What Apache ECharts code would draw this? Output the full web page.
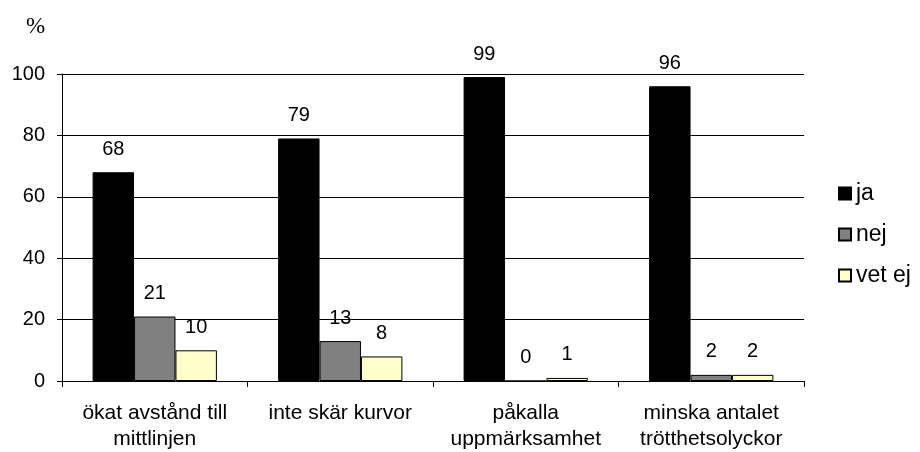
<!DOCTYPE html>
<html>
<head>
<meta charset="utf-8">
<script src="https://cdn.jsdelivr.net/npm/echarts@6/dist/echarts.min.js"></script>
<style>
  html, body { margin: 0; padding: 0; background: #fff; }
  #chart { width: 920px; height: 452px; }
</style>
</head>
<body>
<div id="chart"></div>
<script>
// Survey answers per proposed effect (percent)
const categories = [
  'ökat avstånd till\nmittlinjen',
  'inte skär kurvor',
  'påkalla\nuppmärksamhet',
  'minska antalet\ntrötthetsolyckor'
];
const seriesNames = ['ja', 'nej', 'vet ej'];
const jaValues = [68, 79, 99, 96];
const nejValues = [21, 13, 0, 2];
const vetEjValues = [10, 8, 1, 2];
const yTicks = [0, 20, 40, 60, 80, 100];

const FONT = "'Liberation Sans', Arial, sans-serif";
const colors = ['#000000', '#808080', '#FFFFCC'];
const values = [jaValues, nejValues, vetEjValues];

const chart = echarts.init(document.getElementById('chart'), null, { renderer: 'canvas' });

chart.setOption({
  animation: false,
  backgroundColor: '#ffffff',
  title: {
    text: '%',
    left: 21,
    top: 10,
    textStyle: { fontFamily: "'Liberation Serif', 'Times New Roman', serif", fontSize: 23, fontWeight: 'normal', color: '#000' }
  },
  grid: { left: 62, right: 116, top: 74, bottom: 70, containLabel: false },
  legend: {
    orient: 'vertical',
    left: 833,
    top: 177,
    itemWidth: 12,
    itemHeight: 12,
    itemGap: 18,
    itemTextGap: 9,
    icon: 'rect',
    data: seriesNames,
    textStyle: { fontFamily: FONT, fontSize: 23, color: '#000' }
  },
  xAxis: {
    type: 'category',
    data: categories,
    axisLine: { lineStyle: { color: '#000', width: 1 } },
    axisTick: { show: true, length: 6, alignWithLabel: false, lineStyle: { color: '#000' } },
    axisLabel: { fontFamily: FONT, fontSize: 21, color: '#000', margin: 19, lineHeight: 26, interval: 0 }
  },
  yAxis: {
    type: 'value',
    min: yTicks[0],
    max: yTicks[yTicks.length - 1],
    interval: yTicks[1] - yTicks[0],
    axisLine: { show: true, lineStyle: { color: '#000', width: 1 } },
    axisTick: { show: true, length: 5, lineStyle: { color: '#000' } },
    axisLabel: { fontFamily: FONT, fontSize: 20, color: '#000', margin: 17 },
    splitLine: { show: true, lineStyle: { color: '#000', width: 1 } }
  },
  series: seriesNames.map((name, i) => ({
    name: name,
    type: 'bar',
    data: values[i],
    barGap: '0%',
    barCategoryGap: '33%',
    itemStyle: { color: colors[i], borderColor: '#000', borderWidth: 1 },
    label: {
      show: true,
      position: 'top',
      distance: 13,
      fontFamily: FONT,
      fontSize: 20,
      color: '#000'
    }
  }))
});
</script>
</body>
</html>
